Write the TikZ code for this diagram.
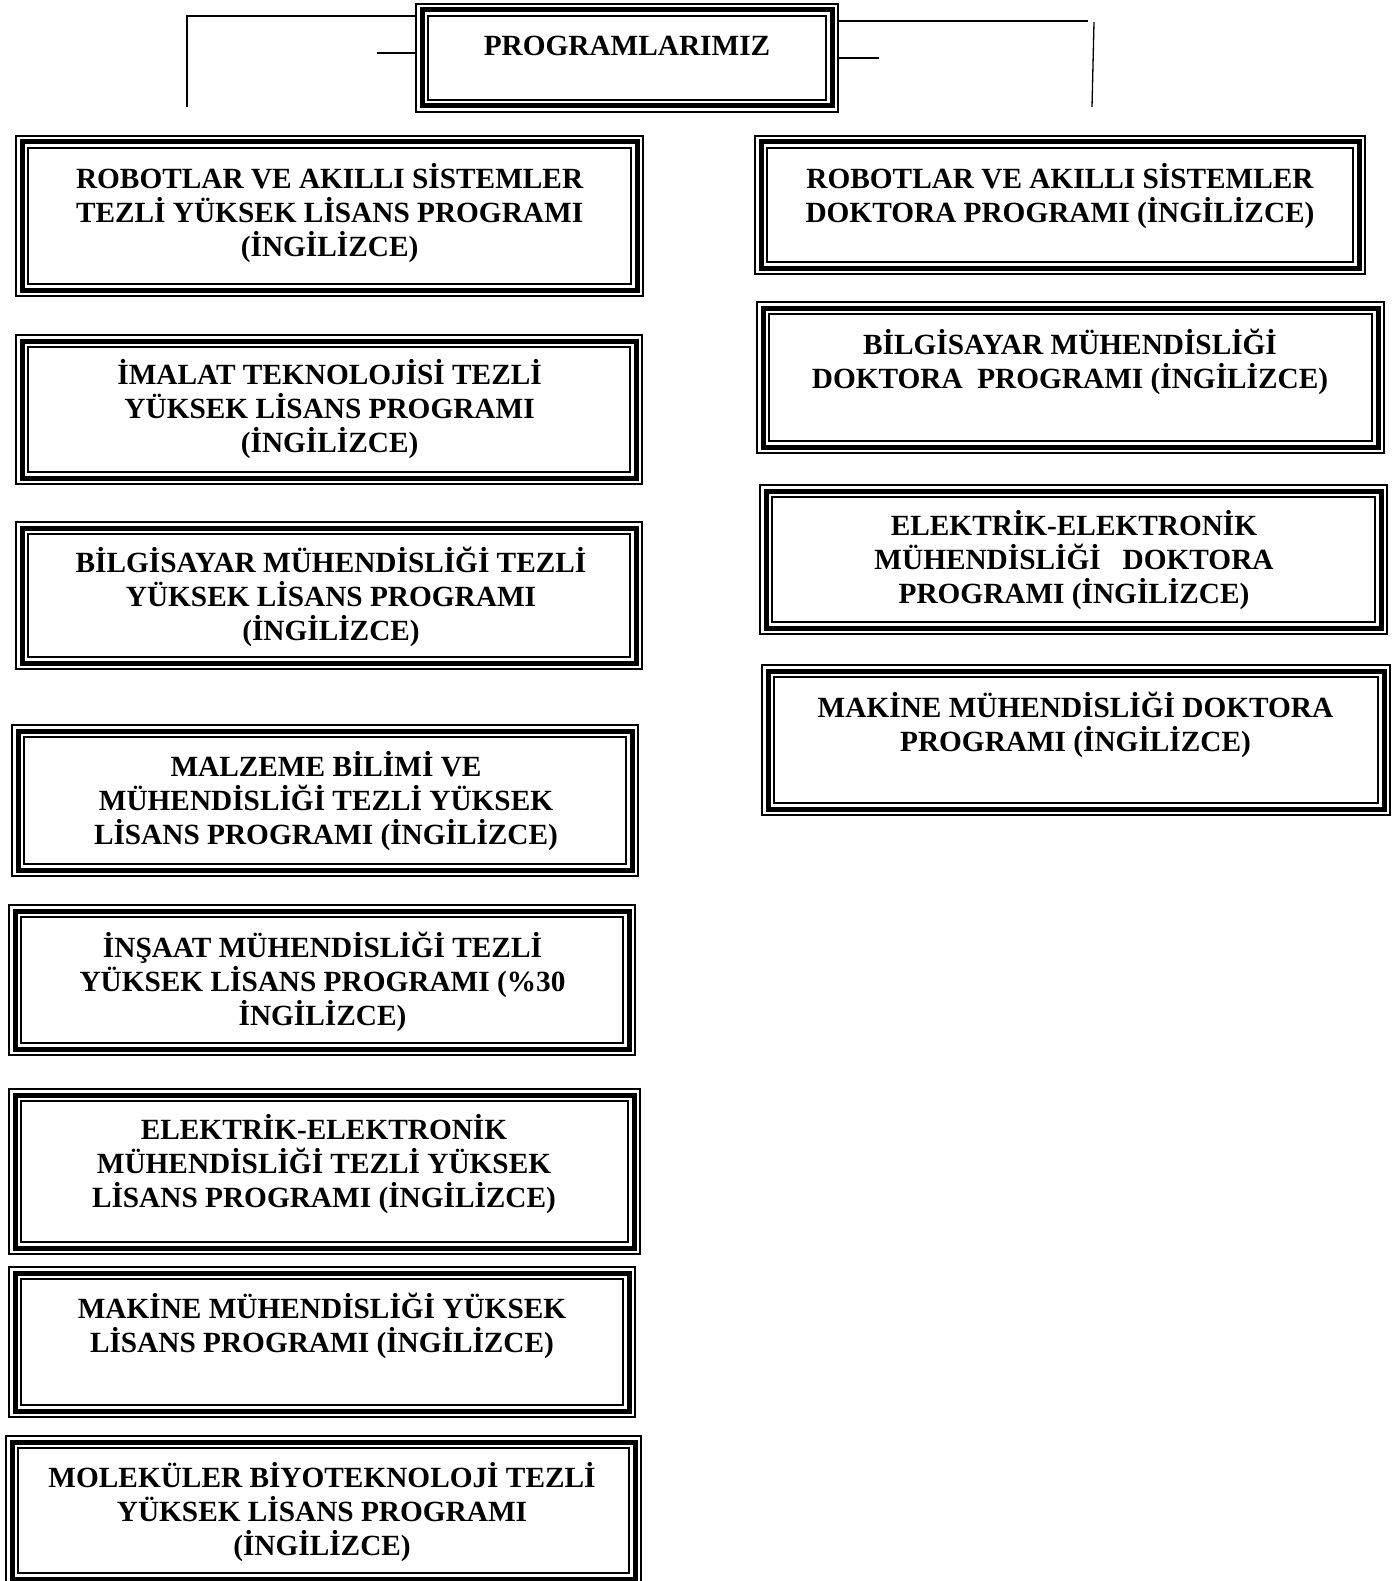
\documentclass[tikz,border=0pt]{standalone}
\usepackage{fontspec}
\setmainfont{Liberation Serif}
\usetikzlibrary{backgrounds}
\tikzset{
  frame/.style={draw, line width=5pt, line join=miter,
    preaction={draw, line width=14pt},
    preaction={draw=white, line width=10.4pt},
    inner sep=0pt, outer sep=0pt},
  lbl/.style={anchor=north, align=center, inner sep=0pt,
    font=\bfseries\fontsize{29.3}{34}\selectfont,
    execute at begin node={\rule{0pt}{26.4pt}}},
  conn/.style={line width=1.3pt},
}
\newcommand\progframe[5]{%
  \node[frame, minimum width={(#4-#2-14)*1pt}, minimum height={(#5-#3-14)*1pt}]
    (#1) at ({(#2+#4)/2},{(#3+#5)/2}) {};}
\begin{document}
\begin{tikzpicture}[x=1pt,y=-1pt]
\useasboundingbox (0,0) rectangle (1398,1581);
\clip (0,0) rectangle (1398,1581);
% top
\progframe{top}{415}{3}{839}{113}
\node[lbl] (toptext) at (627,28.7) {PROGRAMLARIMIZ};
% left column
\progframe{l1}{15}{135}{644}{297}
\node[lbl] (l1t) at (329.6,162.7) {ROBOTLAR VE AKILLI SİSTEMLER\\TEZLİ YÜKSEK LİSANS PROGRAMI\\(İNGİLİZCE)};
\progframe{l2}{15}{334}{643}{485}
\node[lbl] (l2t) at (329.6,359.3) {İMALAT TEKNOLOJİSİ TEZLİ\\YÜKSEK LİSANS PROGRAMI\\(İNGİLİZCE)};
\progframe{l3}{15}{521}{643}{670}
\node[lbl] (l3t) at (331,546.7) {BİLGİSAYAR MÜHENDİSLİĞİ TEZLİ\\YÜKSEK LİSANS PROGRAMI\\(İNGİLİZCE)};
\progframe{l4}{11}{724}{639}{877}
\node[lbl] (l4t) at (326,751.3) {MALZEME BİLİMİ VE\\MÜHENDİSLİĞİ TEZLİ YÜKSEK\\LİSANS PROGRAMI (İNGİLİZCE)};
\progframe{l5}{8}{904}{636}{1056}
\node[lbl] (l5t) at (322.5,931.8) {İNŞAAT MÜHENDİSLİĞİ TEZLİ\\YÜKSEK LİSANS PROGRAMI (\%30\\İNGİLİZCE)};
\progframe{l6}{8}{1088}{641}{1255}
\node[lbl] (l6t) at (324,1114.3) {ELEKTRİK-ELEKTRONİK\\MÜHENDİSLİĞİ TEZLİ YÜKSEK\\LİSANS PROGRAMI (İNGİLİZCE)};
\progframe{l7}{8}{1266}{636}{1418}
\node[lbl] (l7t) at (322,1293.3) {MAKİNE MÜHENDİSLİĞİ YÜKSEK\\LİSANS PROGRAMI (İNGİLİZCE)};
\progframe{l8}{5}{1435}{642}{1586}
\node[lbl] (l8t) at (322,1461.9) {MOLEKÜLER BİYOTEKNOLOJİ TEZLİ\\YÜKSEK LİSANS PROGRAMI\\(İNGİLİZCE)};
% right column
\progframe{r1}{754}{135}{1366}{275}
\node[lbl] (r1t) at (1060,162.7) {ROBOTLAR VE AKILLI SİSTEMLER\\DOKTORA PROGRAMI (İNGİLİZCE)};
\progframe{r2}{756}{301}{1385}{454}
\node[lbl] (r2t) at (1070,329) {BİLGİSAYAR MÜHENDİSLİĞİ\\DOKTORA\ \ PROGRAMI (İNGİLİZCE)};
\progframe{r3}{759}{484}{1388}{635}
\node[lbl] (r3t) at (1074,510.3) {ELEKTRİK-ELEKTRONİK\\MÜHENDİSLİĞİ\ \ \ DOKTORA\\PROGRAMI (İNGİLİZCE)};
\progframe{r4}{761}{664}{1391}{816}
\node[lbl] (r4t) at (1075.5,691.9) {MAKİNE MÜHENDİSLİĞİ DOKTORA\\PROGRAMI (İNGİLİZCE)};
% connectors
\coordinate (lknee) at (187,16);
\coordinate (lend) at (187,107);
\coordinate (lstub) at (377,53);
\coordinate (rknee) at (1088,21);
\coordinate (rvtop) at (1094,22);
\coordinate (rend) at (1092,107);
\coordinate (rstub) at (879,58);
\begin{pgfonlayer}{background}
\draw[conn] (lknee -| top.west) -- (lknee) -- (lend);
\draw[conn] (lstub) -- (lstub -| top.west);
\draw[conn] (rknee -| top.east) -- (rknee);
\draw[conn] (rvtop) -- (rend);
\draw[conn] (rstub -| top.east) -- (rstub);
\end{pgfonlayer}
\end{tikzpicture}
\end{document}
